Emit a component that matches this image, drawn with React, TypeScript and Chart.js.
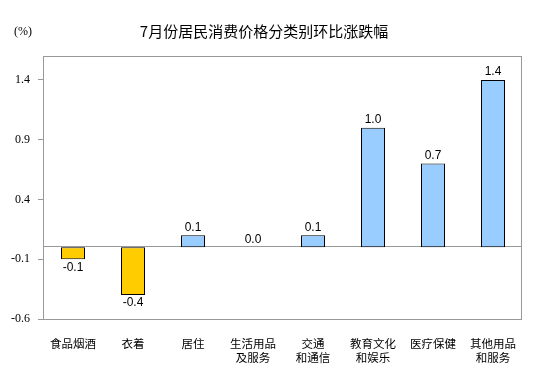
import React, { useEffect, useRef } from "react";
import { Chart, registerables } from "chart.js";

Chart.register(...registerables);

const title = "7月份居民消费价格分类别环比涨跌幅";
const unitLabel = "(%)";
const categories: string[][] = [
  ["食品烟酒"],
  ["衣着"],
  ["居住"],
  ["生活用品", "及服务"],
  ["交通", "和通信"],
  ["教育文化", "和娱乐"],
  ["医疗保健"],
  ["其他用品", "和服务"],
];
const values = [-0.1, -0.4, 0.1, 0.0, 0.1, 1.0, 0.7, 1.4];
const yTicks = [-0.6, -0.1, 0.4, 0.9, 1.4];
const yMin = -0.6;
const yMax = 1.6;

const POS_COLOR = "#99CCFF";
const NEG_COLOR = "#FFCC00";
const FRAME = "#999999";

export default function App() {
  const ref = useRef<HTMLCanvasElement | null>(null);

  useEffect(() => {
    const canvas = ref.current;
    if (!canvas) return;

    const decor = {
      id: "decor",
      beforeDatasetsDraw(chart: any) {
        const { ctx, chartArea, scales } = chart;
        ctx.save();
        ctx.strokeStyle = FRAME;
        ctx.lineWidth = 1;
        ctx.strokeRect(
          Math.round(chartArea.left) + 0.5,
          Math.round(chartArea.top) + 0.5,
          Math.round(chartArea.right - chartArea.left) - 2,
          Math.round(chartArea.bottom - chartArea.top)
        );
        const y0 = Math.round(scales.y.getPixelForValue(0)) - 0.5;
        ctx.beginPath();
        ctx.moveTo(chartArea.left, y0);
        ctx.lineTo(chartArea.right - 2, y0);
        ctx.stroke();
        ctx.restore();
      },
      afterDatasetsDraw(chart: any) {
        const { ctx } = chart;
        const meta = chart.getDatasetMeta(0);
        ctx.save();
        ctx.fillStyle = "#000";
        ctx.font = "12px 'Liberation Sans', Arial, sans-serif";
        ctx.textAlign = "center";
        meta.data.forEach((el: any, i: number) => {
          const v = values[i];
          const txt = v.toFixed(1);
          if (v < 0) {
            ctx.textBaseline = "top";
            ctx.fillText(txt, el.x, el.y + 2);
          } else {
            ctx.textBaseline = "bottom";
            ctx.fillText(txt, el.x, el.y - 2);
          }
        });
        ctx.font = "15px 'Noto Sans CJK SC', sans-serif";
        ctx.textBaseline = "middle";
        ctx.textAlign = "center";
        ctx.fillText(title, 264, 31);
        ctx.font = "12px 'Liberation Serif', serif";
        ctx.textAlign = "left";
        ctx.fillText(unitLabel, 14, 32);
        ctx.restore();
      },
    };

    const chart = new Chart(canvas, {
      type: "bar",
      data: {
        labels: categories,
        datasets: [
          {
            data: values,
            backgroundColor: values.map((v) => (v < 0 ? NEG_COLOR : POS_COLOR)),
            borderColor: "#000000",
            borderWidth: 1,
            borderSkipped: false,
            barPercentage: 0.4,
            categoryPercentage: 1,
          },
        ],
      },
      options: {
        animation: false,
        responsive: false,
        maintainAspectRatio: false,
        layout: { padding: { left: 0, top: 56, right: 31, bottom: 0 } },
        plugins: {
          legend: { display: false },
          tooltip: { enabled: false },
          title: { display: false },
        },
        scales: {
          x: {
            grid: { display: false },
            border: { display: false },
            ticks: {
              color: "#000",
              font: { family: "'Noto Sans CJK SC', sans-serif", size: 11.5 },
              padding: 10,
              maxRotation: 0,
              autoSkip: false,
            },
            afterFit(scale: any) {
              scale.height = 65;
            },
          },
          y: {
            min: yMin,
            max: yMax,
            grid: {
              display: true,
              drawOnChartArea: false,
              drawTicks: true,
              tickLength: 5,
              color: FRAME,
            },
            border: { display: false },
            ticks: {
              color: "#000",
              font: { family: "'Liberation Serif', serif", size: 12 },
              padding: 8,
              callback: (v: any) => String(Math.round(Number(v) * 10) / 10),
            },
            afterBuildTicks(scale: any) {
              scale.ticks = yTicks.map((v) => ({ value: v }));
            },
            afterFit(scale: any) {
              scale.width = 43;
            },
          },
        },
      },
      plugins: [decor],
    });

    return () => chart.destroy();
  }, []);

  return (
    <div style={{ position: "fixed", left: 0, top: 0, width: 554, height: 384, background: "#fff" }}>
      <canvas ref={ref} width={554} height={384} style={{ width: 554, height: 384 }} />
    </div>
  );
}
